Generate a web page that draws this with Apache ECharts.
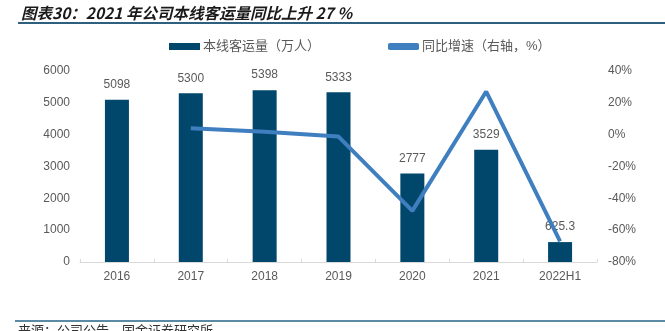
<!DOCTYPE html>
<html><head><meta charset="utf-8">
<script src="https://cdn.jsdelivr.net/npm/echarts@6/dist/echarts.min.js"></script>
<style>html,body{margin:0;padding:0;background:#fff}#c{width:665px;height:331px}</style>
</head><body><div id="c"></div>
<script>
const categories = ['2016','2017','2018','2019','2020','2021','2022H1'];
const ridership = [5098, 5300, 5398, 5333, 2777, 3529, 625.3];
const growth = [null, 4.0, 1.8, -1.2, -47.9, 27.1, -67];
const leftTicks = [0, 1000, 2000, 3000, 4000, 5000, 6000];
const rightTicks = [-80, -60, -40, -20, 0, 20, 40];

const chart = echarts.init(document.getElementById('c'), null, {renderer:'canvas'});
const font = '"Liberation Sans", Arial, "Noto Sans CJK SC", sans-serif';
chart.setOption({
  animation: false,
  textStyle: {fontFamily: font},
  grid: {left: 80, right: 68, top: 71, bottom: 69},
  legend: {
    top: 35, left: 164, itemGap: 68, itemWidth: 31, itemHeight: 7,
    textStyle: {color: '#595959', fontSize: 13, fontFamily: font, padding: [0, 0, 0, -2]},
    data: [
      {name: '本线客运量（万人）', icon: 'rect'},
      {name: '同比增速（右轴，%）', icon: 'roundRect', itemStyle: {color: '#3f7fc0'}}
    ]
  },
  xAxis: {
    type: 'category', data: categories, boundaryGap: true,
    axisLine: {lineStyle: {color: '#d9d9d9', width: 1}},
    axisTick: {show: true, length: 3, inside: true, lineStyle: {color: '#d9d9d9'}},
    axisLabel: {color: '#595959', fontSize: 12, margin: 9}
  },
  yAxis: [
    {type: 'value', min: leftTicks[0], max: leftTicks[leftTicks.length-1], interval: 1000,
     splitLine: {show: false}, axisLine: {show: false}, axisTick: {show: false},
     axisLabel: {color: '#595959', fontSize: 12, margin: 10, formatter: v => String(v)}},
    {type: 'value', min: rightTicks[0], max: rightTicks[rightTicks.length-1], interval: 20,
     position: 'right', splitLine: {show: false}, axisLine: {show: false}, axisTick: {show: false},
     axisLabel: {color: '#595959', fontSize: 12, margin: 11, formatter: v => v + '%'}}
  ],
  series: [
    {name: '本线客运量（万人）', type: 'bar', data: ridership, barWidth: 24,
     itemStyle: {color: '#00476b'},
     label: {show: true, position: 'top', distance: 9, color: '#595959', fontSize: 12,
             formatter: p => String(p.value)}},
    {name: '同比增速（右轴，%）', type: 'line', yAxisIndex: 1, data: growth,
     showSymbol: false, symbol: 'none', connectNulls: false,
     lineStyle: {color: '#3f7fc0', width: 4}, itemStyle: {color: '#3f7fc0'}, z: 3}
  ],
  graphic: [
    {type: 'text', left: 21, top: 5,
     style: {text: '图表30：2021 年公司本线客运量同比上升 27 %', fill: '#1a1a1a',
             font: 'italic bold 15.5px "Noto Sans CJK SC", sans-serif'}},
    {type: 'rect', shape: {x: 18, y: 22, width: 647, height: 2}, style: {fill: '#2e5f7e'}},
    {type: 'rect', shape: {x: 15, y: 320, width: 650, height: 2}, style: {fill: '#5b8aa6'}},
    {type: 'text', left: 18, top: 324,
     style: {text: '来源：公司公告，国金证券研究所', fill: '#333', font: '13px "Noto Sans CJK SC", sans-serif'}}
  ]
});
</script></body></html>
